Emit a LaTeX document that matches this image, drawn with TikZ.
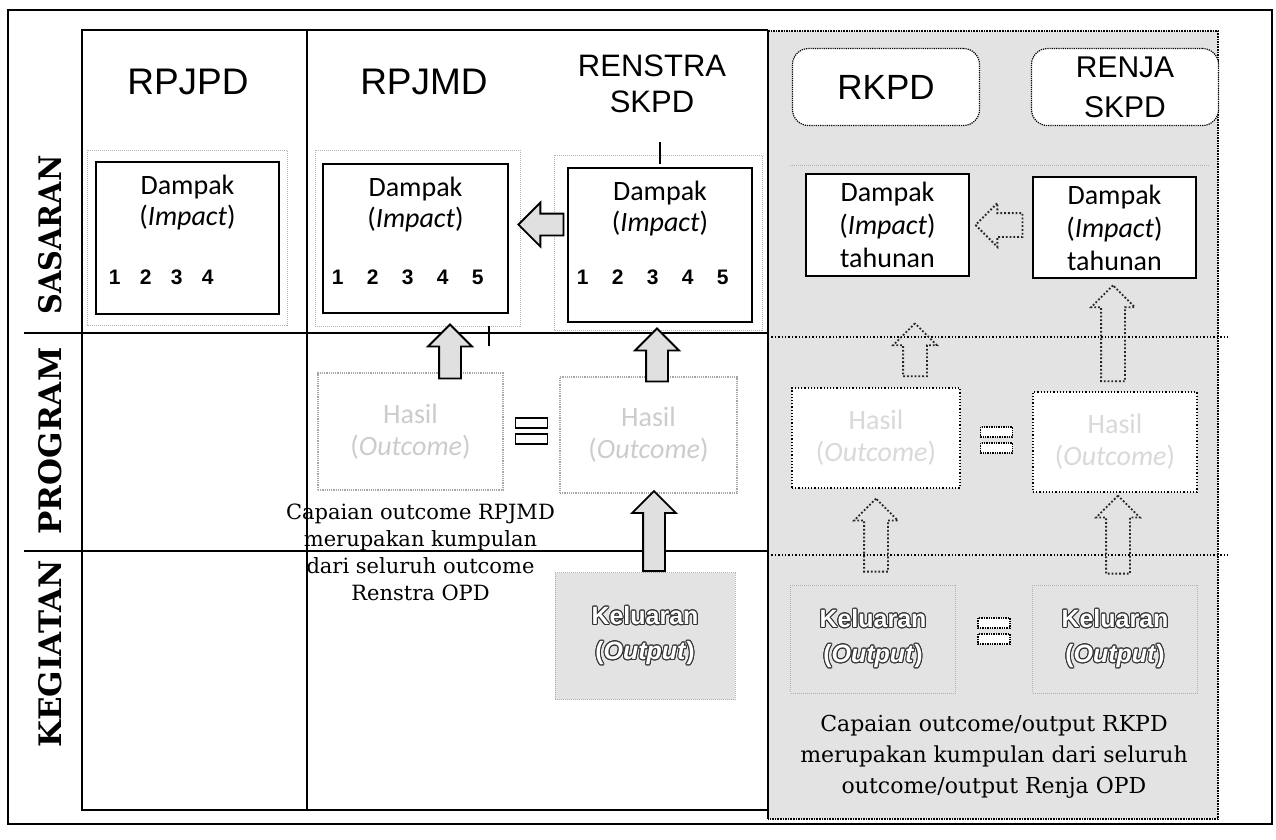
\documentclass[tikz,border=0pt]{standalone}
\usepackage{fontspec}
\setmainfont{DejaVu Serif}
\newfontfamily\hdfont{Liberation Sans}
\newfontfamily\bxfont{Carlito}
\usepackage{graphicx}
\usepackage{contour}
\contourlength{1pt}
\usepackage{tikz}
\usetikzlibrary{positioning,shapes.arrows,calc}
\definecolor{scangray}{gray}{0.89}
\newcommand{\hollow}[1]{\contour{black!80}{\textcolor{white}{#1}}}

\begin{document}
\begin{tikzpicture}[x=1pt,y=-1pt,
   hd/.style={font=\hdfont\fontsize{37}{40}\selectfont,align=center},
   hdsm/.style={font=\hdfont\fontsize{31}{36}\selectfont,align=center},
   hdbox/.style={draw,densely dotted,line width=1.2pt,rounded corners=16pt,fill=white,
                 minimum width=187pt,minimum height=77pt},
   lbl/.style={rotate=90,font=\bfseries\fontsize{31}{34}\selectfont},
   dbox/.style={draw,line width=2.4pt,fill=white,inner sep=0pt},
   dtxt/.style={font=\bxfont\fontsize{28}{31}\selectfont,align=center,inner sep=0pt},
   ttxt/.style={font=\bxfont\fontsize{28}{33}\selectfont,align=center},
   num/.style={font=\hdfont\bfseries\fontsize{21}{24}\selectfont,inner sep=0pt},
   ghost/.style={draw=black!30,densely dotted,line width=1pt},
   prog/.style={draw=black!35,densely dotted,line width=1.2pt,fill=white,align=center,
                font=\bxfont\fontsize{28}{32}\selectfont,text=black!20},
   progg/.style={prog,draw=black,dotted,line width=1.6pt,text=black!15},
   kel/.style={draw=black!30,densely dotted,line width=1pt,align=center,
               font=\hdfont\bfseries\fontsize{25}{35}\selectfont},
   blk/.style={single arrow,draw,line width=1.8pt,fill=black!12,inner sep=10pt,
               minimum width=42pt,single arrow head extend=11pt},
   blkg/.style={blk,dotted,fill=none,draw=black!85,inner sep=11pt,single arrow head extend=10pt},
   captxt/.style={align=center,font=\fontsize{21}{27}\selectfont},
   eqs/.pic={\draw[pic actions] (-16,-13) rectangle (16,-3) (-16,3) rectangle (16,13);}]
  \useasboundingbox (0,0) rectangle (1276,839);
  % frame and grid
  \draw[line width=2.6pt] (8,10) rectangle (1272,824);
  \fill[scangray] (768,31) rectangle (1218,819);
  \draw[densely dotted,line width=1.6pt] (768,31) -- (1218,31) -- (1218,819) -- (768,819);
  \draw[line width=1.4pt] (768,30) -- (82,30) -- (82,810) -- (768,810);
  \draw[line width=1.4pt] (307,30) -- (307,810);
  \draw[line width=2pt] (768,30) -- (768,819);
  \draw[line width=1.4pt] (24,333) -- (768,333) (24,551) -- (768,551);
  \draw[dotted,line width=1.4pt] (768,337) -- (1228,337) (768,555) -- (1228,555);
  \draw[ghost] (87,150) rectangle (287,325) (315,150) rectangle (520,326)
               (554,155) rectangle (762,330) (790,165) -- (1210,165);

  \node[lbl] (lsas) at (50,235) {\scalebox{0.93}[1]{SASARAN}};
  \node[lbl] (lprog) at (50,441) {PROGRAM};
  \node[lbl] (lkeg) at (50,654) {KEGIATAN};

  % headers
  \node[hd] (hRPJPD) at (188,82) {RPJPD};
  \node[hd] (hRPJMD) at (424,82) {RPJMD};
  \node[hdsm] (hRenstra) at (652,84) {RENSTRA\\SKPD};
  \node[hdbox,hd,font=\hdfont\fontsize{35}{40}\selectfont] (hRKPD) at (886,87) {RKPD};
  \node[hdbox,hdsm,font=\hdfont\fontsize{30}{40}\selectfont] (hRenja) at (1125,87) {RENJA\\SKPD};

  % sasaran
  \node[dbox,minimum width=183pt,minimum height=152pt] (rpjpdD) at (187.5,238) {};
  \node[dbox,minimum width=185pt,minimum height=149pt] (rpjmdD) at (415.5,238.5) {};
  \node[dbox,minimum width=184pt,minimum height=154pt] (renstraD) at (660,245) {};
  \node[dtxt,below=14pt of rpjpdD.north] {Dampak\\(\textit{Impact})};
  \node[dtxt,below=14pt of rpjmdD.north] {Dampak\\(\textit{Impact})};
  \node[dtxt,below=14pt of renstraD.north] {Dampak\\(\textit{Impact})};
  \foreach \i in {1,...,4}
    \node[num] at ($(rpjpdD.west)+({20+31*(\i-1)},39)$) {\i};
  \foreach \i in {1,...,5}{
    \node[num] at ($(rpjmdD.west)+({16+35*(\i-1)},38.5)$) {\i};
    \node[num] at ($(renstraD.west)+({16+35*(\i-1)},32)$) {\i};
  }
  \node[dbox,ttxt,minimum width=163pt,minimum height=102pt] (rkpdD) at (887.5,225)
       {Dampak\\(\textit{Impact})\\tahunan};
  \node[dbox,ttxt,minimum width=163pt,minimum height=101pt] (renjaD) at (1114.5,227.5)
       {Dampak\\(\textit{Impact})\\tahunan};
  \draw[line width=1.6pt] ($(renstraD.north)+(0,-25)$) -- +(0,22);
  \draw[line width=1.6pt] ($(rpjmdD.south east)+(-20,12)$) -- +(0,20);

  % program
  \node[prog,minimum width=185pt,minimum height=117pt] (rpjmdP) at (410.5,431.5) {Hasil\\(\textit{Outcome})};
  \node[prog,minimum width=177pt,minimum height=116pt] (renstraP) at (648.5,435) {Hasil\\(\textit{Outcome})};
  \node[progg,minimum width=168pt,minimum height=100pt] (rkpdP) at (876,438) {Hasil\\(\textit{Outcome})};
  \node[progg,minimum width=164pt,minimum height=100pt] (renjaP) at (1115,442) {Hasil\\(\textit{Outcome})};
  \pic[draw,line width=1.8pt,fill=white] at ($(rpjmdP.east)!0.5!(renstraP.west)+(0,-2)$) {eqs};
  \pic[draw,densely dotted,line width=1.4pt,fill=white] at ($(rkpdP.east)!0.5!(renjaP.west)$) {eqs};

  % kegiatan
  \node[kel,fill=scangray,minimum width=180pt,minimum height=127pt] (renstraK) at (645,636)
       {\hollow{Keluaran}\\\hollow{(\textit{Output})}};
  \node[kel,minimum width=165pt,minimum height=108pt] (rkpdK) at (873,639)
       {\hollow{Keluaran}\\\hollow{(\textit{Output})}};
  \node[kel,minimum width=165pt,minimum height=108pt] (renjaK) at (1115,639)
       {\hollow{Keluaran}\\\hollow{(\textit{Output})}};
  \pic[draw,densely dotted,line width=1.4pt,fill=white] at ($(rkpdK.east)!0.5!(renjaK.west)+(0,-8)$) {eqs};

  % block arrows
  \node[blk,shape border rotate=180,minimum height=45pt,anchor=tip] (aMD) at ($(rpjmdD.east)+(8,-14)$) {};
  \node[blk,shape border rotate=90,minimum height=54pt,anchor=tail] (aMDup) at ($(rpjmdP.north)+(39.5,7)$) {};
  \node[blk,shape border rotate=90,minimum height=53pt,anchor=tail] (aRSup) at ($(renstraP.north)+(8.5,6)$) {};
  \node[blk,shape border rotate=90,minimum height=80pt,anchor=tail] (aRSlow) at ($(renstraK.north)+(9,0)$) {};
  \node[blkg,shape border rotate=180,minimum height=47pt,anchor=tip] (aKP) at ($(rkpdD.east)+(4,0)$) {};
  \node[blkg,shape border rotate=90,minimum height=53pt,anchor=tail] (aKPup) at ($(rkpdP.north)+(39,-10)$) {};
  \node[blkg,shape border rotate=90,minimum height=96pt,anchor=tail] (aRJup) at ($(renjaP.north)+(-2,-9)$) {};
  \node[blkg,shape border rotate=90,minimum height=73pt,anchor=tail] (aKPlow) at ($(rkpdK.north)+(3,-12)$) {};
  \node[blkg,shape border rotate=90,minimum height=78pt,anchor=tail] (aRJlow) at ($(renjaK.north)+(3,-10)$) {};

  % captions
  \node[captxt,below=10pt of rpjmdP,xshift=10pt] (capMD)
       {Capaian outcome RPJMD\\merupakan kumpulan\\dari seluruh outcome\\Renstra OPD};
  \node[captxt,anchor=north,font=\fontsize{22}{31}\selectfont] (capKP)
       at ($(rkpdK.south)!0.5!(renjaK.south)+(0,18)$)
       {Capaian outcome/output RKPD\\merupakan kumpulan dari seluruh\\outcome/output Renja OPD};
\end{tikzpicture}
\end{document}
